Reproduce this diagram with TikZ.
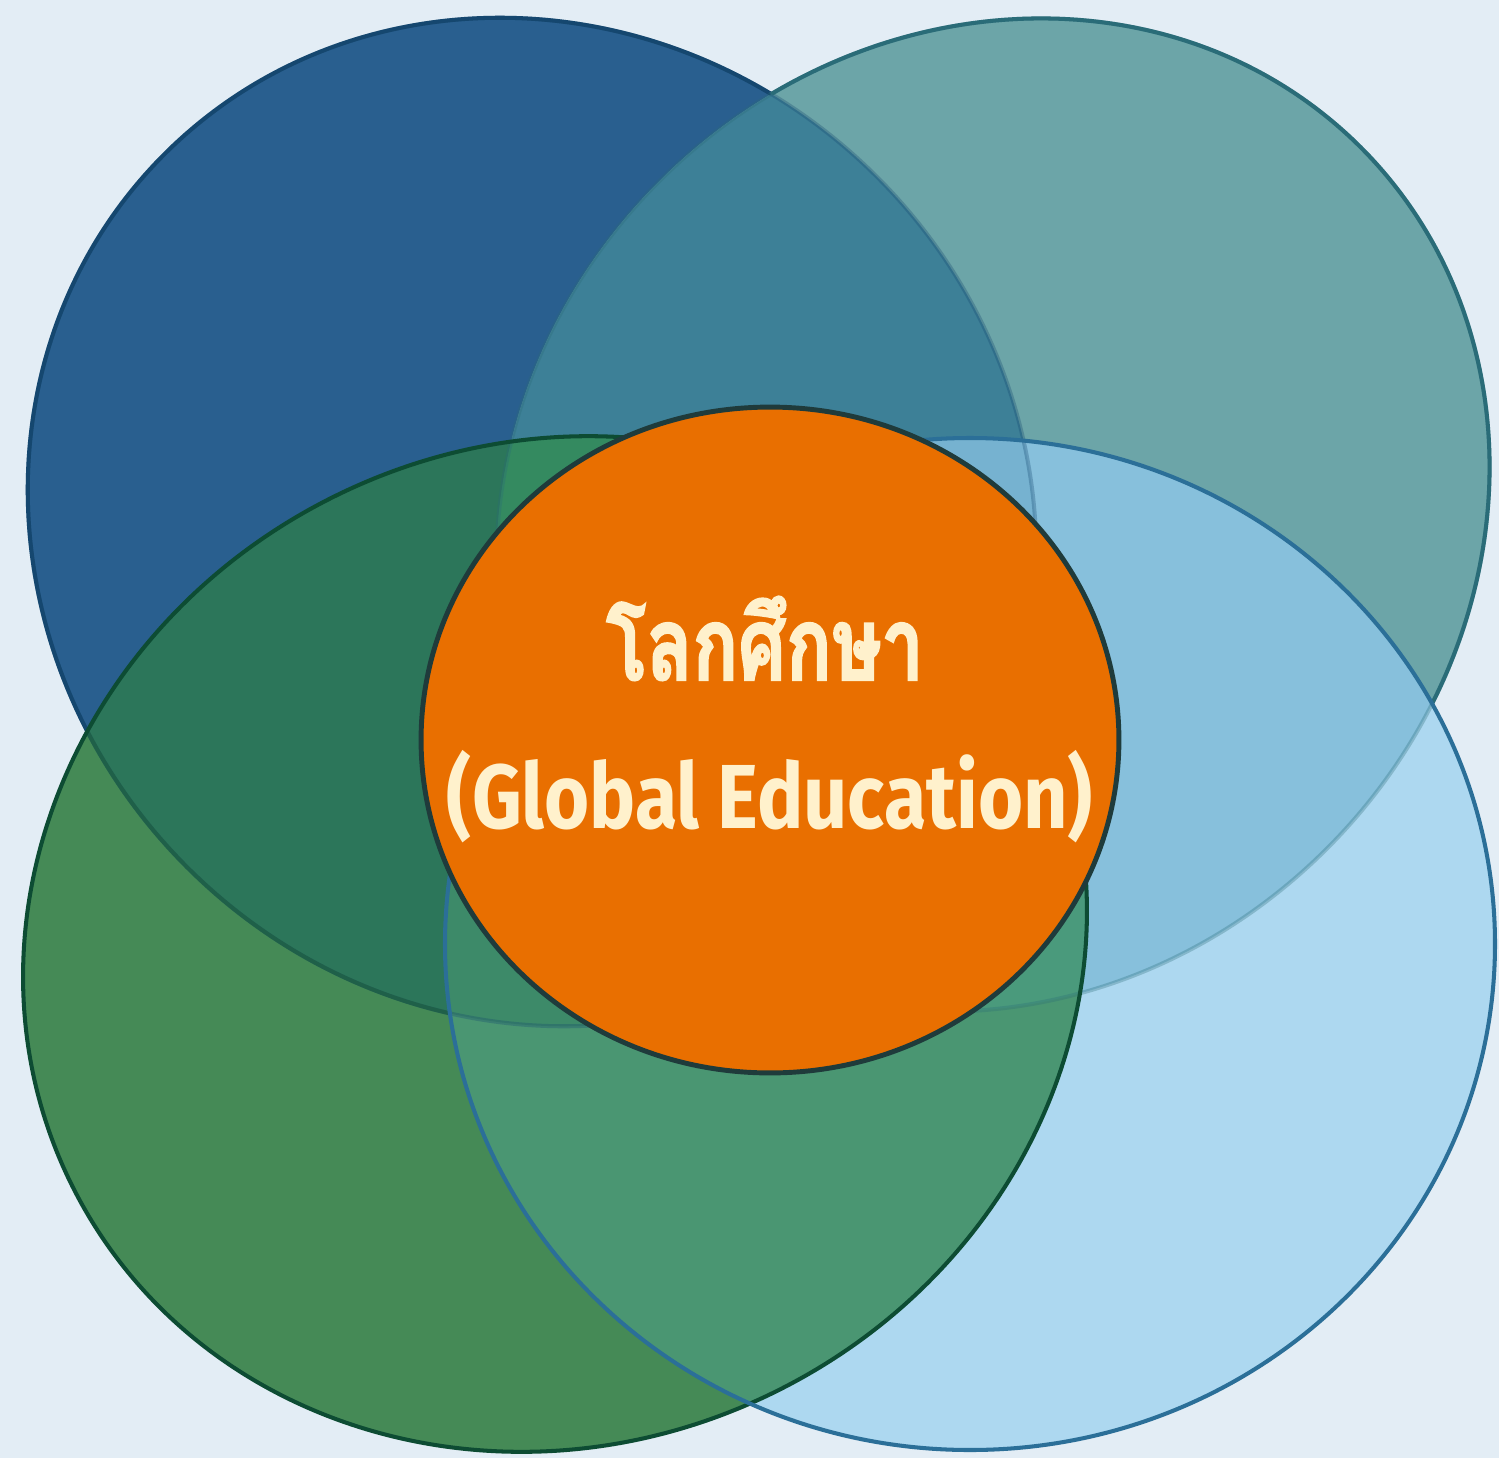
\documentclass[tikz,border=0pt]{standalone}
\usepackage{fontspec}
\usetikzlibrary{shapes.geometric}
\newfontfamily\thaifont[Script=Thai,FakeStretch=0.74,FakeBold=2]{Loma}
\newfontfamily\latfont[FakeStretch=0.85]{Fira Sans}
\definecolor{cBg}{HTML}{E3EDF5}
\definecolor{cA}{HTML}{295F8F}
\definecolor{cB}{HTML}{6CA5A8}
\definecolor{cC}{HTML}{458A56}
\definecolor{cD}{HTML}{ADD8F0}
\definecolor{cAB}{HTML}{3D8097}
\definecolor{cAC}{HTML}{2C765A}
\definecolor{cBD}{HTML}{87C0DC}
\definecolor{cCD}{HTML}{4A9672}
\definecolor{cABC}{HTML}{348A60}
\definecolor{cABD}{HTML}{76B2D0}
\definecolor{cACD}{HTML}{3D8A69}
\definecolor{cBCD}{HTML}{4A9A7C}
\definecolor{sA}{HTML}{15476F}
\definecolor{sAinC}{HTML}{1F6049}
\definecolor{sB}{HTML}{2A6C78}
\definecolor{sC}{HTML}{0D4C33}
\definecolor{sD}{HTML}{2B6F98}
\definecolor{cO}{HTML}{E96F00}
\definecolor{sO}{HTML}{1F3B3B}
\definecolor{cT}{HTML}{FFF1CC}
\tikzset{
  shA/.style={rotate around={-45:(532,-522)}},
  shB/.style={rotate around={45:(993,-515)}},
  shC/.style={rotate around={27:(555,-944)}},
  shD/.style={},
  rim/.style={line width=2.3pt}
}
\newcommand\drawA[1]{\path[shA,#1] (532,-522) ellipse [x radius=520, y radius=488];}
\newcommand\drawB[1]{\path[shB,#1] (993,-515) ellipse [x radius=520, y radius=472];}
\newcommand\drawC[1]{\path[shC,#1] (555,-944) ellipse [x radius=540, y radius=499];}
\newcommand\drawD[1]{\path[shD,#1] (970,-944) ellipse [x radius=525, y radius=506];}
\newcommand\clipA{\clip[shA] (532,-522) ellipse [x radius=520, y radius=488];}
\newcommand\clipB{\clip[shB] (993,-515) ellipse [x radius=520, y radius=472];}
\newcommand\clipC{\clip[shC] (555,-944) ellipse [x radius=540, y radius=499];}
\newcommand\clipD{\clip[shD] (970,-944) ellipse [x radius=525, y radius=506];}
\newcommand\outA{\clip[shA] (-2000,2000) rectangle (3500,-3500) (532,-522) ellipse [x radius=520, y radius=488];}
\newcommand\outB{\clip[shB] (-2000,2000) rectangle (3500,-3500) (993,-515) ellipse [x radius=520, y radius=472];}
\newcommand\outC{\clip[shC] (-2000,2000) rectangle (3500,-3500) (555,-944) ellipse [x radius=540, y radius=499];}
\newcommand\outD{\clip[shD] (-2000,2000) rectangle (3500,-3500) (970,-944) ellipse [x radius=525, y radius=506];}
\begin{document}
\begin{tikzpicture}[x=0.02cm,y=0.02cm]
\useasboundingbox (0,0) rectangle (1499,-1458);
\fill[cBg] (0,0) rectangle (1499,-1458);
% base fills
\drawA{fill=cA}
\drawB{fill=cB}
\drawC{fill=cC}
\drawD{fill=cD}
% pairwise overlaps
\begin{scope}\clipA \drawB{fill=cAB}\end{scope}
\begin{scope}\clipA \drawC{fill=cAC}\end{scope}
\begin{scope}\clipA \drawD{fill=cABD}\end{scope}
\begin{scope}\clipB \drawC{fill=cABC}\end{scope}
\begin{scope}\clipB \drawD{fill=cBD}\end{scope}
\begin{scope}\clipC \drawD{fill=cCD}\end{scope}
% triple overlaps
\begin{scope}\clipA \clipB \drawC{fill=cABC}\end{scope}
\begin{scope}\clipA \clipB \drawD{fill=cABD}\end{scope}
\begin{scope}\clipA \clipC \drawD{fill=cACD}\end{scope}
\begin{scope}\clipB \clipC \drawD{fill=cBCD}\end{scope}
\begin{scope}\clipA \clipB \clipC \drawD{fill=cACD}\end{scope}
% outline of A
\drawA{draw=sA, rim, draw opacity=0.3}
\begin{scope}[even odd rule]\outB \outC \drawA{draw=sA, rim}\end{scope}
\begin{scope}[even odd rule]\outB \outD \clipC \drawA{draw=sAinC, rim}\end{scope}
% outline of B
\drawB{draw=sB, rim, draw opacity=0.3}
\begin{scope}[even odd rule]\outA \outC \outD \drawB{draw=sB, rim}\end{scope}
% outlines of C and D
\drawC{draw=sC, rim}
\drawD{draw=sD, rim}
% centre
\node[ellipse, draw=sO, line width=2.8pt, fill=cO, minimum width=13.96cm, minimum height=13.32cm, inner sep=0pt] (core) at (770,-740) {};
\node[anchor=base, text=cT, inner sep=0pt, font=\thaifont\bfseries\fontsize{58}{60}\selectfont] (th) at (765,-680) {โลกศึกษา};
\node[anchor=base, text=cT, inner sep=0pt, font=\latfont\bfseries\fontsize{51.8}{54}\selectfont] (en) at (770,-828) {(Global Education)};
\end{tikzpicture}
\end{document}
